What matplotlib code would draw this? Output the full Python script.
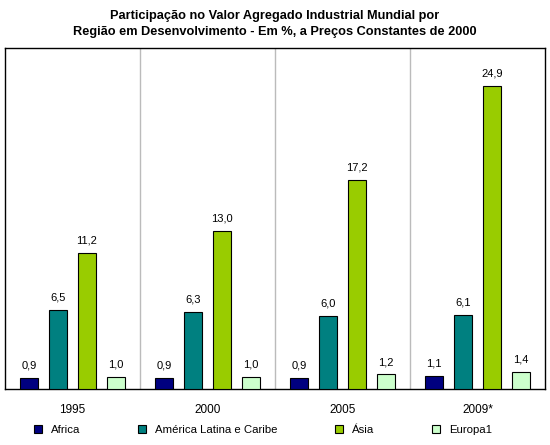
import matplotlib
matplotlib.use("Agg")
import matplotlib.pyplot as plt
from matplotlib.patches import Patch
import numpy as np

plt.rcParams['font.family'] = ['Liberation Sans', 'DejaVu Sans']

years = ["1995", "2000", "2005", "2009*"]
series = ["Africa", "América Latina e Caribe", "Ásia", "Europa1"]
africa = [0.9, 0.9, 0.9, 1.1]
america = [6.5, 6.3, 6.0, 6.1]
asia = [11.2, 13.0, 17.2, 24.9]
europa = [1.0, 1.0, 1.2, 1.4]
values = [africa, america, asia, europa]
colors = ["#000080", "#008080", "#99CC00", "#CCFFCC"]

fig = plt.figure(figsize=(5.5, 4.45), dpi=100)
ax = fig.add_axes([5/550, 1 - 389/445, 540/550, (389 - 48)/445])

x = np.arange(len(years))
pitch = 0.215
width = 0.133
for i, (vals, col) in enumerate(zip(values, colors)):
    pos = x + (i - 1.5) * pitch
    ax.bar(pos, vals, width=width, color=col, edgecolor="black", linewidth=0.8, zorder=3)
    for p, v in zip(pos, vals):
        ax.text(p, v + 0.6, f"{v:.1f}".replace(".", ","), ha="center", va="bottom",
                fontsize=8, color="black")

ax.set_xlim(-0.5, len(years) - 0.5)
ax.set_ylim(0, 28)
for b in x[:-1] + 0.5:
    ax.axvline(b, color="#BBBBBB", linewidth=1, zorder=1)

ax.set_yticks([])
ax.set_xticks(x)
ax.set_xticklabels(years, fontsize=8.5)
ax.tick_params(axis="x", length=0, pad=11)
for s in ax.spines.values():
    s.set_color("black")
    s.set_linewidth(1)

fig.text(0.5, 1 - 10/445, "Participação no Valor Agregado Industrial Mundial por\nRegião em Desenvolvimento - Em %, a Preços Constantes de 2000",
         ha="center", va="top", fontsize=9.2, fontweight="bold", linespacing=1.45)

handles = [Patch(facecolor=c, edgecolor="black", linewidth=0.8) for c in colors]
fig.legend(handles, series, loc="center", bbox_to_anchor=(263/550, 1 - 430/445), ncol=4,
           frameon=False, fontsize=8.2, handlelength=0.75, handleheight=0.75,
           handletextpad=0.8, columnspacing=5.0)

fig.savefig("out.png", dpi=100)
